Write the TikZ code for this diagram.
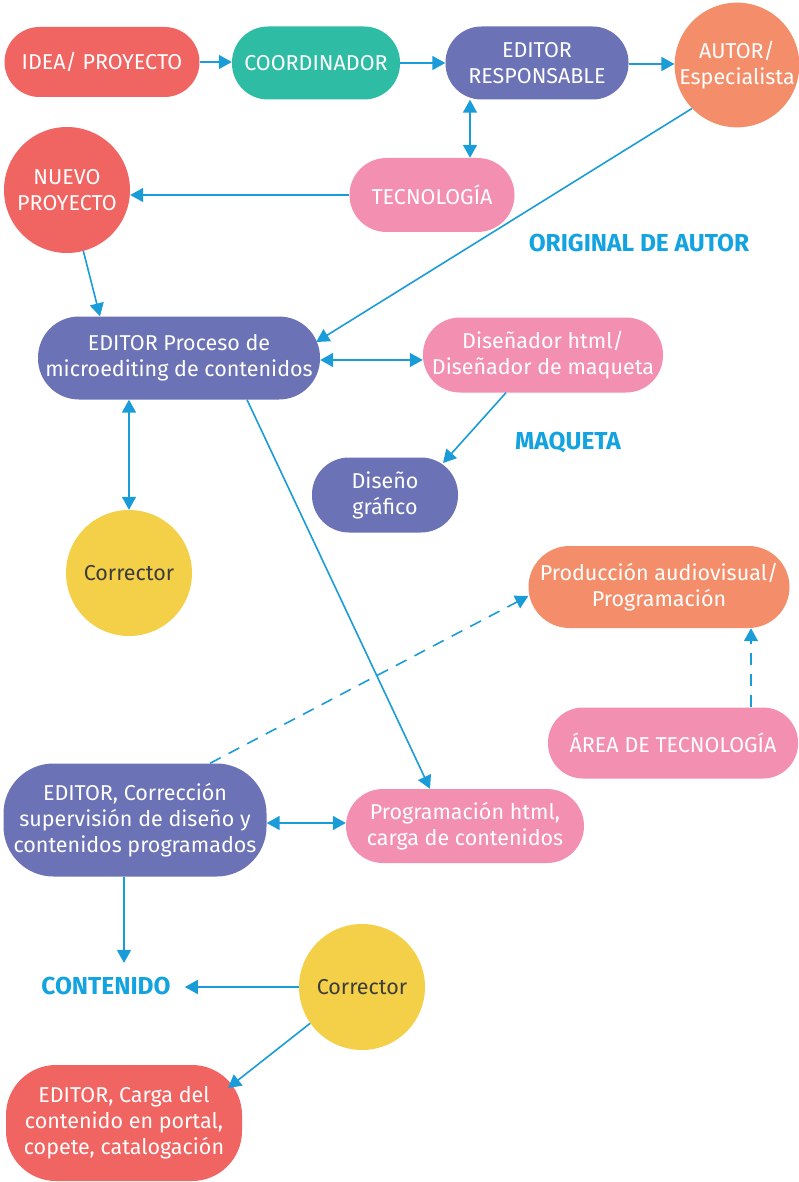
\documentclass[tikz,border=0pt]{standalone}
\usepackage{fontspec}
\setmainfont{Fira Sans}
\usetikzlibrary{arrows.meta}
\definecolor{cred}{HTML}{F06462}
\definecolor{cteal}{HTML}{2EBDA4}
\definecolor{cpurple}{HTML}{6C72B6}
\definecolor{corange}{HTML}{F48E6A}
\definecolor{cpink}{HTML}{F38FB1}
\definecolor{cyellow}{HTML}{F4CF48}
\definecolor{carrow}{HTML}{1A9CD8}
\definecolor{clabel}{HTML}{12A3E0}
\definecolor{cdark}{HTML}{3C3C3C}
\begin{document}
\begin{tikzpicture}[x=1pt,y=-1pt,
  txt/.style={text=white, font=\fontsize{21.5}{26}\selectfont, align=center, inner sep=0pt},
  pill/.style n args={3}{txt, rectangle, minimum width=#1pt, minimum height=#2pt, rounded corners=#3pt},
  circ/.style={txt, circle, minimum size=126pt},
  lab/.style={text=clabel, font=\fontsize{24.5}{28}\selectfont\bfseries, inner sep=0pt},
  arr/.style={draw=carrow, line width=1.6pt, -{Triangle[length=13pt,width=14pt]}},
  arrb/.style={draw=carrow, line width=1.6pt, {Triangle[length=13pt,width=14pt]}-{Triangle[length=13pt,width=14pt]}},
  dsh/.style={arr, dash pattern=on 12pt off 9pt}
]
\useasboundingbox (0,0) rectangle (798,1182);

\node[pill={195}{70}{35}, fill=cred] (idea) at (102,62) {IDEA/ PROYECTO};
\node[pill={168}{73}{36}, fill=cteal] (coord) at (316,63) {COORDINADOR};
\node[pill={183}{73}{36}, fill=cpurple] (edresp) at (537,63) {EDITOR\\RESPONSABLE};
\node[circ, minimum size=124pt, fill=corange] (autor) at (737,65) {AUTOR/\\Especialista};
\node[circ, fill=cred] (nuevo) at (67,190) {NUEVO\\PROYECTO};
\node[pill={165}{74}{37}, fill=cpink] (tec) at (432,195) {TECNOLOGÍA};
\node[lab] (orig) at (639,243) {ORIGINAL DE AUTOR};
\node[pill={282}{83}{41}, fill=cpurple] (edproc) at (179,358) {EDITOR Proceso de\\microediting de contenidos};
\node[pill={240}{75}{37}, fill=cpink] (disen) at (543,355) {Diseñador html/\\Diseñador de maqueta};
\node[lab] (maq) at (568,443) {MAQUETA};
\node[pill={146}{75}{37}, fill=cpurple] (grafico) at (385,495) {Diseño\\gráfico};
\node[circ, fill=cyellow, text=cdark] (corr1) at (129,573) {Corrector};
\node[pill={261}{82}{41}, fill=corange] (prod) at (659,587) {Producción audiovisual/\\Programación};
\node[pill={250}{71}{35}, fill=cpink] (area) at (673,743) {ÁREA DE TECNOLOGÍA};
\node[pill={263}{113}{50}, fill=cpurple] (edcorr) at (135,820) {EDITOR, Corrección\\supervisión de diseño y\\contenidos programados};
\node[pill={238}{74}{37}, fill=cpink] (proghtml) at (465,826) {Programación html,\\carga de contenidos};
\node[lab, inner sep=14pt] (contenido) at (106,986) {CONTENIDO};
\node[circ, fill=cyellow, text=cdark] (corr2) at (362,987) {Corrector};
\node[pill={236}{116}{50}, fill=cred] (edcarga) at (124,1123) {EDITOR, Carga del\\contenido en portal,\\copete, catalogación};

% connectors
\draw[arr] (idea.east) -- (idea.east -| coord.west);
\draw[arr] (coord.east) -- (coord.east -| edresp.west);
\draw[arr] ([yshift=-1pt]edresp.east) -- ([yshift=-1pt]edresp.east -| autor.west);
\draw[arrb] ([xshift=38pt]tec.north |- edresp.south) -- ([xshift=38pt]tec.north);
\draw[arr] (tec.west) -- (tec.west -| nuevo.east);
\draw[arr] (nuevo.-75) -- ([xshift=-79pt]edproc.north);
\draw[arr] (autor.224) -- ([shift={(-4,-16)}]edproc.east);
\draw[arrb] ([yshift=-2pt]edproc.east) -- ([yshift=-2pt]edproc.east -| disen.west);
\draw[arr] ([xshift=-37pt]disen.south) -- ([shift={(58,-32)}]grafico.center);
\draw[arrb] (corr1.north |- edproc.south) -- (corr1.north);
\draw[arr] ([xshift=68pt]edproc.south) -- ([xshift=-35pt]proghtml.north);
\draw[dsh] ([xshift=75pt]edcorr.north) -- ([yshift=-9pt]prod.west);
\draw[dsh] ([xshift=78pt]area.north) -- ([xshift=78pt]area.north |- prod.south);
\draw[arrb] ([yshift=-3pt]edcorr.east) -- ([yshift=-3pt]edcorr.east -| proghtml.west);
\draw[arr] ([xshift=-11pt]edcorr.south) -- ([xshift=-11pt]edcorr.south |- contenido.north);
\draw[arr] (corr2.west) -- (corr2.west -| contenido.east);
\draw[arr] (corr2.215) -- ([shift={(104,-35)}]edcarga.center);
\end{tikzpicture}
\end{document}
